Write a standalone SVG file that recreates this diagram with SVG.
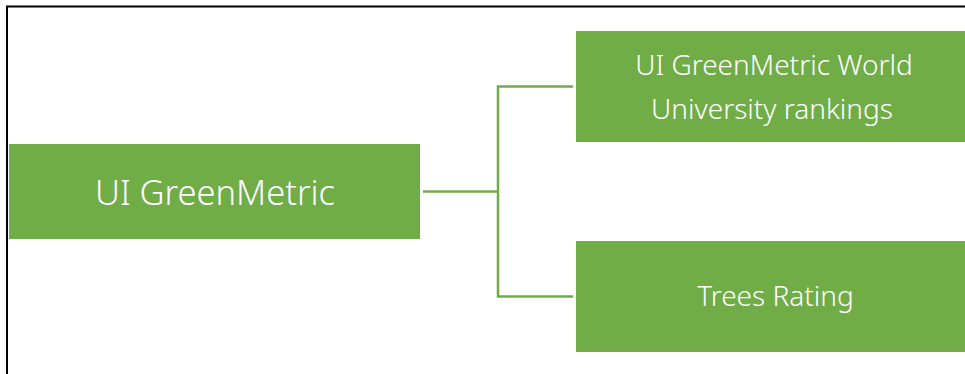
<svg xmlns="http://www.w3.org/2000/svg" width="965" height="374" viewBox="0 0 965 374">
<style>
.box{fill:#70AD47;}
.lbl{fill:#ffffff;font-family:"Noto Sans","Open Sans","Liberation Sans",sans-serif;font-weight:300;text-anchor:middle;}
.conn{fill:none;stroke:#70AD47;stroke-width:2.5;}
</style>
<rect width="965" height="374" fill="#ffffff"/>
<path d="M7,374 V6.5 H965" fill="none" stroke="#000000" stroke-width="2"/>
<g id="connectors">
<path class="conn" d="M423,191.5 H498"/>
<path class="conn" d="M573,86.5 H498 V296.5 H573"/>
</g>
<g id="node-root">
<rect class="box" x="9" y="144" width="411" height="95"/>
<text class="lbl" x="215" y="205" font-size="34.5">UI GreenMetric</text>
</g>
<g id="node-rankings">
<rect class="box" x="576" y="31" width="399" height="111"/>
<text class="lbl" x="774" y="75" font-size="28">UI GreenMetric World</text>
<text class="lbl" x="772" y="119" font-size="28">University rankings</text>
</g>
<g id="node-trees">
<rect class="box" x="576" y="241" width="399" height="111"/>
<text class="lbl" x="775.5" y="305.5" font-size="28">Trees Rating</text>
</g>
</svg>
